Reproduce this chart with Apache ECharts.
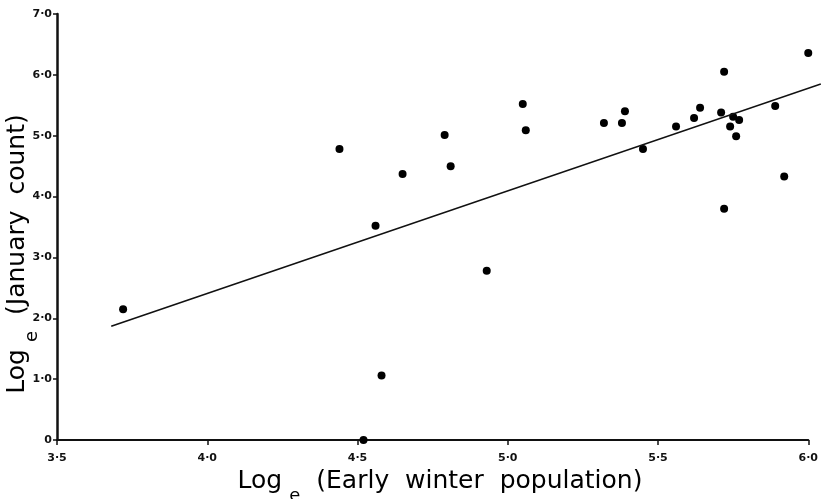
<!DOCTYPE html>
<html>
<head>
<meta charset="utf-8">
<script src="https://cdn.jsdelivr.net/npm/echarts@6/dist/echarts.min.js"></script>
<style>
html,body{margin:0;padding:0;background:#fff;}
#chart{width:821px;height:499px;}
</style>
</head>
<body>
<div id="chart"></div>
<script>
// Early winter population (log_e) vs January count (log_e)
var earlyWinter = [3.72, 4.44, 4.56, 4.58, 4.52, 4.65, 4.79, 4.81, 4.93, 5.05, 5.06, 5.32, 5.39, 5.38, 5.45, 5.56, 5.62, 5.64, 5.72, 5.71, 5.75, 5.77, 5.74, 5.76, 5.72, 5.92, 5.89, 6.00];
var januaryCount = [2.15, 4.78, 3.52, 1.06, 0.00, 4.37, 5.01, 4.50, 2.78, 5.52, 5.09, 5.21, 5.40, 5.21, 4.78, 5.15, 5.29, 5.46, 6.05, 5.38, 5.31, 5.26, 5.15, 4.99, 3.80, 4.33, 5.49, 6.36];
// regression line end points
var fitX = [3.68, 6.036];
var fitY = [1.87, 5.85];
var xTicks = ['3·5', '4·0', '4·5', '5·0', '5·5', '6·0'];
var yTicks = ['0', '1·0', '2·0', '3·0', '4·0', '5·0', '6·0', '7·0'];

var pts = earlyWinter.map(function (x, i) { return [x, januaryCount[i]]; });
var fit = fitX.map(function (x, i) { return [x, fitY[i]]; });

var titleFont = "'DejaVu Sans', sans-serif";
var rich = {
  m: { fontSize: 25, fontFamily: titleFont, color: '#151515', lineHeight: 26, verticalAlign: 'top' },
  s: { fontSize: 18, fontFamily: titleFont, color: '#151515', lineHeight: 18, verticalAlign: 'top', padding: [18, 16, 0, 7] }
};

var chart = echarts.init(document.getElementById('chart'), null, { renderer: 'canvas' });
chart.setOption({
  animation: false,
  backgroundColor: '#fff',
  grid: [
    { left: 57, right: 11, top: 14, bottom: 59, containLabel: false },
    { left: 57, right: 0, top: 14, bottom: 59, containLabel: false }
  ],
  xAxis: [{
    type: 'value', min: 3.5, max: 6.0, interval: 0.5, gridIndex: 0,
    splitLine: { show: false },
    axisLine: { show: true, onZero: false, lineStyle: { color: '#111', width: 2 } },
    axisTick: { show: true, length: 5, lineStyle: { color: '#111', width: 1.5 } },
    axisLabel: {
      margin: 13, color: '#111', fontSize: 11, fontWeight: 'bold', fontFamily: "'DejaVu Sans', sans-serif",
      formatter: function (v) { return xTicks[Math.round((v - 3.5) / 0.5)]; }
    }
  }, {
    // same scale as the first x axis, extended to the right edge for the fitted line
    type: 'value', min: 3.5, max: 3.5 + 764 * 2.5 / 753, gridIndex: 1, show: false
  }],
  yAxis: [{
    type: 'value', min: 0, max: 7, interval: 1, gridIndex: 0,
    splitLine: { show: false },
    axisLine: { show: true, onZero: false, lineStyle: { color: '#111', width: 2.5 } },
    axisTick: { show: true, length: 4, lineStyle: { color: '#111', width: 1.5 } },
    axisLabel: {
      margin: 5, color: '#111', fontSize: 11, fontWeight: 'bold', fontFamily: "'DejaVu Sans', sans-serif",
      formatter: function (v) { return yTicks[Math.round(v)]; }
    }
  }, {
    type: 'value', min: 0, max: 7, gridIndex: 1, show: false
  }],
  series: [
    {
      type: 'line', data: fit, clip: false, symbol: 'none', silent: true,
      xAxisIndex: 1, yAxisIndex: 1,
      lineStyle: { color: '#111', width: 1.6 }
    },
    {
      type: 'scatter', data: pts, symbol: 'circle', symbolSize: 8, clip: false,
      xAxisIndex: 0, yAxisIndex: 0,
      itemStyle: { color: '#000', opacity: 1 }
    }
  ],
  graphic: [
    {
      type: 'text', x: 440, y: 469,
      style: {
        text: '{m|Log}{s|e}{m|(Early  winter  population)}',
        rich: rich, textAlign: 'center', textVerticalAlign: 'top'
      }
    },
    {
      type: 'text', x: 5, y: 254, rotation: Math.PI / 2,
      style: {
        text: '{m|Log}{s|e}{m|(January  count)}',
        rich: rich, textAlign: 'center', textVerticalAlign: 'top'
      }
    }
  ]
});
</script>
</body>
</html>
